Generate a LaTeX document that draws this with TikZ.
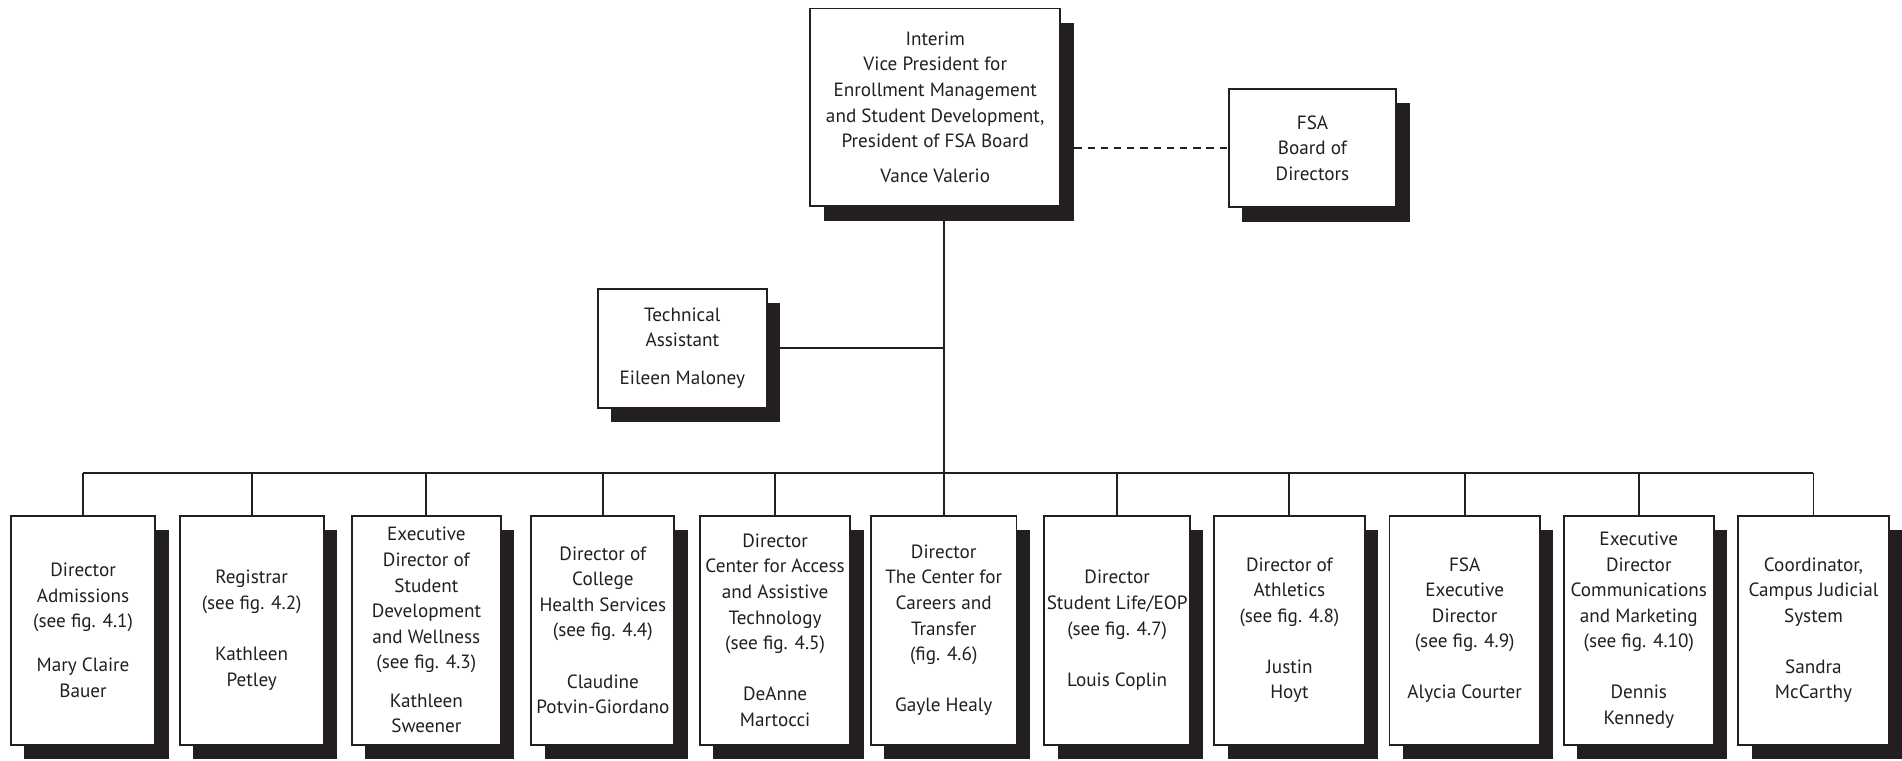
\documentclass[tikz,border=0pt]{standalone}
\usepackage{fontspec}
\setmainfont{PT Sans}
\usepackage{xcolor}
\usepackage{tikz}
\usetikzlibrary{shadows}
\definecolor{ink}{HTML}{231F20}
\tikzstyle{box}=[draw=ink,line width=0.9pt,fill=white,align=center,inner sep=1pt,text=ink,font=\fontsize{9}{12}\selectfont,drop shadow={shadow xshift=0.22cm,shadow yshift=-0.24cm,fill=ink,opacity=1}]
\tikzstyle{unit}=[box,minimum height=3.78cm]
\tikzstyle{link}=[draw=ink,line width=0.9pt]

\begin{document}
\begin{tikzpicture}[x=0.02cm,y=-0.02cm]
        \useasboundingbox (0,0) rectangle (1568,627);
        \node at ( 771, 88.5) [box,minimum width=4.12cm,minimum height=3.26cm] (VP) {Interim\\Vice President for\\Enrollment Management\\and Student Development,\\President of FSA Board\\[4.5pt]Vance Valerio};
        \node at (1082,122) [box,minimum width=2.76cm,minimum height=1.96cm] (FSA) {FSA\\Board of\\Directors};
        \node at ( 562.5,287) [box,minimum width=2.78cm,minimum height=1.96cm] (TA) {Technical\\Assistant\\[6pt]Eileen Maloney};
        \node at (  68.5,519.5) [unit,minimum width=2.38cm] (b1) {Director\\Admissions\\(see fig. 4.1)\\[8.5pt]Mary Claire\\Bauer};
        \node at ( 207.5,519.5) [unit,minimum width=2.38cm] (b2) {Registrar\\(see fig. 4.2)\\[12pt]Kathleen\\Petley};
        \node at ( 351.5,519.5) [unit,minimum width=2.46cm] (b3) {Executive\\Director of\\Student\\Development\\and Wellness\\(see fig. 4.3)\\[6pt]Kathleen\\Sweener};
        \node at ( 497,519.5) [unit,minimum width=2.36cm] (b4) {Director of\\College\\Health Services\\(see fig. 4.4)\\[12pt]Claudine\\Potvin-Giordano};
        \node at ( 639,519.5) [unit,minimum width=2.48cm] (b5) {Director\\Center for Access\\and Assistive\\Technology\\(see fig. 4.5)\\[12pt]DeAnne\\Martocci};
        \node at ( 778,519.5) [unit,minimum width=2.40cm] (b6) {Director\\The Center for\\Careers and\\Transfer\\(fig. 4.6)\\[12pt]Gayle Healy};
        \node at ( 921,519.5) [unit,minimum width=2.40cm] (b7) {Director\\Student Life/EOP\\(see fig. 4.7)\\[12pt]Louis Coplin};
        \node at (1063,519.5) [unit,minimum width=2.48cm] (b8) {Director of\\Athletics\\(see fig. 4.8)\\[12pt]Justin\\Hoyt};
        \node at (1207.5,519.5) [unit,minimum width=2.48cm] (b9) {FSA\\Executive\\Director\\(see fig. 4.9)\\[12pt]Alycia Courter};
        \node at (1351,519.5) [unit,minimum width=2.48cm] (b10) {Executive\\Director\\Communications\\and Marketing\\(see fig. 4.10)\\[12pt]Dennis\\Kennedy};
        \node at (1495,519.5) [unit,minimum width=2.48cm] (b11) {Coordinator,\\Campus Judicial\\System\\[12pt]Sandra\\McCarthy};
        \coordinate (bus) at (0,390);
        \draw [link,dash pattern=on 3.4pt off 2.8pt] (FSA.west -| VP.east) to (FSA.west);
        \draw [link] (VP.south -| b6.north) to (b6.north);
        \draw [link] (TA.east) to (TA.east -| b6.north);
        \draw [link] (b1.north |- bus) to (b11.north |- bus);
        \draw [link] (b1.north) to (b1.north |- bus);
        \draw [link] (b2.north) to (b2.north |- bus);
        \draw [link] (b3.north) to (b3.north |- bus);
        \draw [link] (b4.north) to (b4.north |- bus);
        \draw [link] (b5.north) to (b5.north |- bus);
        \draw [link] (b7.north) to (b7.north |- bus);
        \draw [link] (b8.north) to (b8.north |- bus);
        \draw [link] (b9.north) to (b9.north |- bus);
        \draw [link] (b10.north) to (b10.north |- bus);
        \draw [link] (b11.north) to (b11.north |- bus);
      \end{tikzpicture}
\end{document}
